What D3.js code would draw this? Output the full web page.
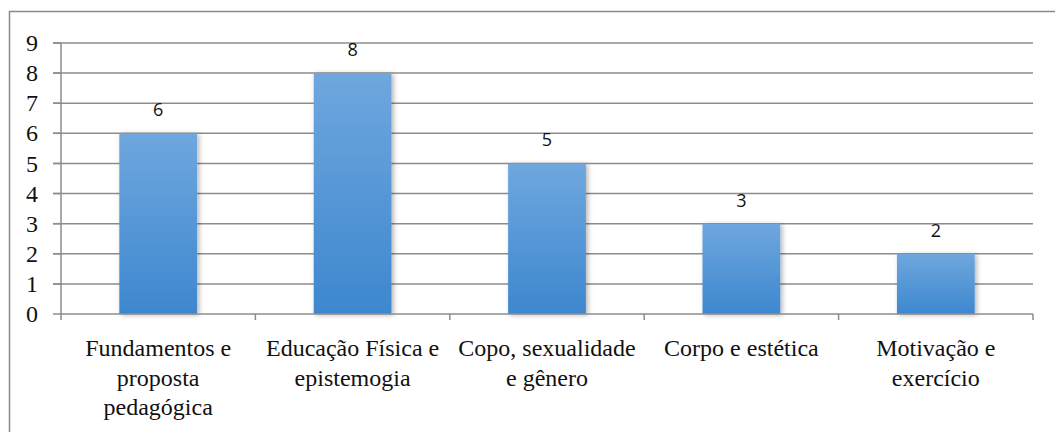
<!DOCTYPE html>
<meta charset="utf-8">
<body style="margin:0">
<script src="https://d3js.org/d3.v7.min.js"></script>
<script>

const categories = ["Fundamentos e proposta pedagógica",
                    "Educação Física e epistemogia",
                    "Copo, sexualidade e gênero",
                    "Corpo e estética",
                    "Motivação e exercício"];
const categoryLines = [["Fundamentos e", "proposta", "pedagógica"],
                       ["Educação Física e", "epistemogia"],
                       ["Copo, sexualidade", "e gênero"],
                       ["Corpo e estética"],
                       ["Motivação e", "exercício"]];
const values = [6, 8, 5, 3, 2];
const yTicks = [0, 1, 2, 3, 4, 5, 6, 7, 8, 9];

let width = 1055,
    height = 432,
    margin = {top: 43, right: 22, bottom: 118, left: 61};

let svg = d3.select("body").append("svg")
            .attr("width", width)
            .attr("height", height)
            .style("font-family", "Times New Roman");

let defs = svg.append("defs");
let grad = defs.append("linearGradient")
            .attr("id", "barFill")
            .attr("x1", 0).attr("y1", 0).attr("x2", 0).attr("y2", 1);
grad.append("stop").attr("offset", "0%").attr("stop-color", "#6fa7de");
grad.append("stop").attr("offset", "100%").attr("stop-color", "#3d87cf");

let shadow = defs.append("filter").attr("id", "shadow")
            .attr("x", "-20%").attr("y", "-10%").attr("width", "150%").attr("height", "130%");
shadow.append("feDropShadow")
    .attr("dx", 2).attr("dy", 1).attr("stdDeviation", 2.5)
    .attr("flood-color", "#000").attr("flood-opacity", 0.3);

// outer frame
svg.append("rect")
    .attr("x", 9.5).attr("y", 11.5)
    .attr("width", width + 10).attr("height", height + 10)
    .attr("fill", "none")
    .attr("stroke", "#8a8a8a")
    .attr("stroke-width", 1.5);

let x = d3.scaleBand()
        .domain(categories)
        .range([margin.left, width - margin.right])
        .paddingInner(0.6)
        .paddingOuter(0.3);

let y = d3.scaleLinear()
        .domain([0, 9])
        .range([height - margin.bottom, margin.top]);

// gridlines
svg.append("g")
    .selectAll("line")
    .data(yTicks.filter(d => d > 0))
    .join("line")
        .attr("x1", margin.left - 8)
        .attr("x2", width - margin.right)
        .attr("y1", d => y(d))
        .attr("y2", d => y(d))
        .attr("stroke", "#8c8c8c")
        .attr("stroke-width", 1.5);

// y axis, labels drawn by hand so the serif face sticks
let yAxis = svg.append("g")
    .attr("transform", `translate(${margin.left},0)`);
yAxis.append("line")
    .attr("y1", y(9)).attr("y2", y(0))
    .attr("stroke", "#8c8c8c").attr("stroke-width", 1.5);
yAxis.selectAll(".yt")
    .data(yTicks)
    .join("line")
        .attr("class", "yt")
        .attr("x1", -8).attr("x2", 0)
        .attr("y1", d => y(d)).attr("y2", d => y(d))
        .attr("stroke", "#8c8c8c").attr("stroke-width", 1.5);
yAxis.selectAll("text")
    .data(yTicks)
    .join("text")
        .attr("x", -23)
        .attr("y", d => y(d))
        .attr("dy", "0.34em")
        .attr("text-anchor", "end")
        .attr("fill", "#111")
        .style("font-family", "Times New Roman")
        .style("font-size", "24px")
        .text(d => d);

// bars
svg.append("g")
    .selectAll("rect")
    .data(values)
    .join("rect")
        .attr("x", (d, i) => x(categories[i]))
        .attr("y", d => y(d))
        .attr("width", x.bandwidth())
        .attr("height", d => y(0) - y(d))
        .attr("fill", "url(#barFill)")
        .attr("filter", "url(#shadow)");

// x axis
let x0 = d3.scalePoint().domain(d3.range(categories.length + 1)).range([margin.left, width - margin.right]);
let xAxis = svg.append("g")
    .attr("transform", `translate(0,${y(0)})`);
xAxis.append("line")
    .attr("x1", margin.left).attr("x2", width - margin.right)
    .attr("stroke", "#8c8c8c").attr("stroke-width", 1.5);
xAxis.selectAll(".xt")
    .data(x0.domain())
    .join("line")
        .attr("class", "xt")
        .attr("x1", d => x0(d)).attr("x2", d => x0(d))
        .attr("y1", 0).attr("y2", 6)
        .attr("stroke", "#8c8c8c").attr("stroke-width", 1.5);

let labels = svg.append("g")
    .selectAll("text")
    .data(categories)
    .join("text")
        .attr("text-anchor", "middle")
        .attr("fill", "#111")
        .style("font-family", "Times New Roman")
        .style("font-size", "24px")
        .attr("transform", d => `translate(${x(d) + x.bandwidth() / 2},${y(0) + 42})`);
labels.selectAll("tspan")
    .data((d, i) => categoryLines[i])
    .join("tspan")
        .attr("x", 0)
        .attr("y", (d, i) => i * 29.5)
        .text(d => d);

// value labels
svg.append("g")
    .selectAll("text")
    .data(values)
    .join("text")
        .attr("text-anchor", "middle")
        .attr("fill", "#111")
        .style("font-family", "Open Sans")
        .style("font-size", "18px")
        .attr("x", (d, i) => x(categories[i]) + x.bandwidth() / 2)
        .attr("y", d => y(d) - 17)
        .text(d => d);

</script>
